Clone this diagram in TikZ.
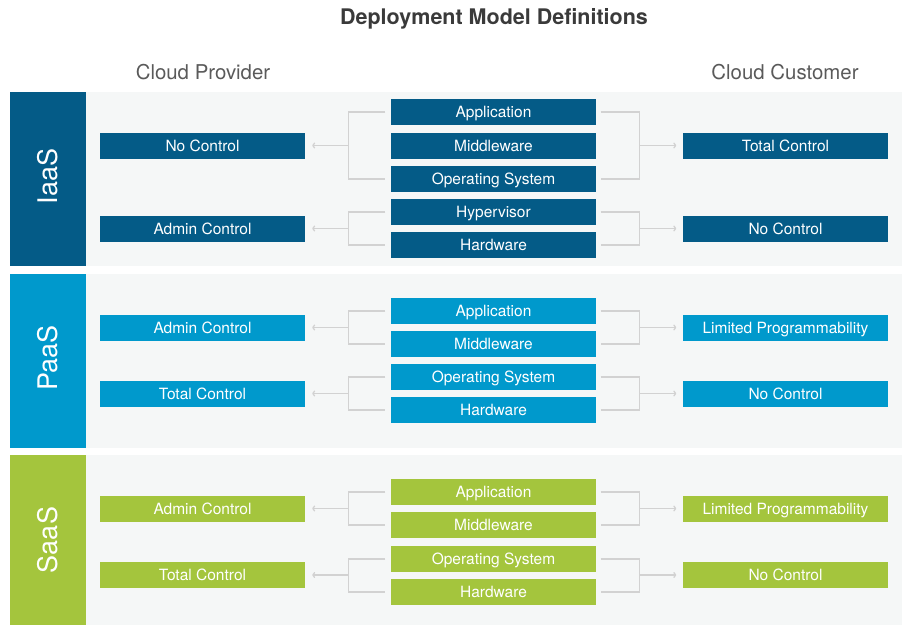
\documentclass[tikz,border=0pt]{standalone}
\usepackage{fontspec}
\setmainfont{TeX Gyre Heros}
\usetikzlibrary{arrows.meta}
\definecolor{iaas}{HTML}{045B87}
\definecolor{paas}{HTML}{0099CC}
\definecolor{saas}{HTML}{A4C53D}
\definecolor{bggray}{HTML}{F5F7F7}
\definecolor{linegray}{HTML}{D2D2D2}
\definecolor{titlegray}{HTML}{3A3A3A}
\definecolor{headgray}{HTML}{5A5A5A}
\begin{document}
\begin{tikzpicture}[x=1pt,y=-1pt,
  box/.style={minimum width=205pt,minimum height=26pt,inner sep=0pt,text=white,
    text height=11.1pt,text depth=0pt,
    font=\fontsize{15.5}{18}\selectfont},
  bandlabel/.style={rotate=90,text=white,font=\fontsize{27}{30}\selectfont},
  conn/.style={draw=linegray,line width=1.3pt},
  arr/.style={-{To[length=3pt,width=6pt]}}]
\useasboundingbox (0,0) rectangle (906,625);
% title and headings
\node[font=\bfseries\fontsize{21.5}{25}\selectfont,text=titlegray] (title) at (494,19) {Deployment Model Definitions};
\node[font=\fontsize{20.4}{24}\selectfont,text=headgray] (prov) at (203,72) {Cloud Provider};
\node[font=\fontsize{20.4}{24}\selectfont,text=headgray] (cust) at (785,72) {Cloud Customer};
% bands
\fill[bggray] (85,92) rectangle (902,266);
\fill[iaas] (10,92) rectangle (86,266);
\fill[bggray] (85,274) rectangle (902,447.5);
\fill[paas] (10,274) rectangle (85.5,447.5);
\fill[bggray] (85,455) rectangle (902,625);
\fill[saas] (10,455) rectangle (85.5,625);
\node[bandlabel] (lI) at (47.5,176.5) {IaaS};
\node[bandlabel] (lP) at (47.5,358) {PaaS};
\node[bandlabel] (lS) at (47.5,540) {SaaS};
% bracket x positions
\coordinate (bl) at (348.5,0);
\coordinate (br) at (639.5,0);
% ---------------- IaaS ----------------
\node[box,fill=iaas] (i1) at (493.5,112) {Application};
\node[box,fill=iaas] (i2) at (493.5,145.5) {Middleware};
\node[box,fill=iaas] (i3) at (493.5,179) {Operating System};
\node[box,fill=iaas] (i4) at (493.5,212) {Hypervisor};
\node[box,fill=iaas] (i5) at (493.5,245) {Hardware};
\node[box,fill=iaas] (iL1) at (202.5,145.5) {No Control};
\node[box,fill=iaas] (iL2) at (202.5,228.5) {Admin Control};
\node[box,fill=iaas] (iR1) at (785.5,145.5) {Total Control};
\node[box,fill=iaas] (iR2) at (785.5,228.5) {No Control};
\draw[conn] ([xshift=-5.5]i1.west) -| (bl |- i3.west) -- ([xshift=-5.5]i3.west);
\draw[conn] ([xshift=-5.5]i4.west) -| (bl |- i5.west) -- ([xshift=-5.5]i5.west);
\draw[conn] ([xshift=4.5]i1.east) -| (br |- i3.east) -- ([xshift=4.5]i3.east);
\draw[conn] ([xshift=4.5]i4.east) -| (br |- i5.east) -- ([xshift=4.5]i5.east);
\draw[conn,arr] (iL1.east -| bl) -- ([xshift=7]iL1.east);
\draw[conn,arr] (iL2.east -| bl) -- ([xshift=7]iL2.east);
\draw[conn,arr] (iR1.west -| br) -- ([xshift=-6.5]iR1.west);
\draw[conn,arr] (iR2.west -| br) -- ([xshift=-6.5]iR2.west);
% ---------------- PaaS ----------------
\node[box,fill=paas] (p1) at (493.5,311) {Application};
\node[box,fill=paas] (p2) at (493.5,344) {Middleware};
\node[box,fill=paas] (p3) at (493.5,377) {Operating System};
\node[box,fill=paas] (p4) at (493.5,410) {Hardware};
\node[box,fill=paas] (pL1) at (202.5,327.5) {Admin Control};
\node[box,fill=paas] (pL2) at (202.5,393.5) {Total Control};
\node[box,fill=paas] (pR1) at (785.5,327.5) {Limited Programmability};
\node[box,fill=paas] (pR2) at (785.5,393.5) {No Control};
\draw[conn] ([xshift=-5.5]p1.west) -| (bl |- p2.west) -- ([xshift=-5.5]p2.west);
\draw[conn] ([xshift=-5.5]p3.west) -| (bl |- p4.west) -- ([xshift=-5.5]p4.west);
\draw[conn] ([xshift=4.5]p1.east) -| (br |- p2.east) -- ([xshift=4.5]p2.east);
\draw[conn] ([xshift=4.5]p3.east) -| (br |- p4.east) -- ([xshift=4.5]p4.east);
\draw[conn,arr] (pL1.east -| bl) -- ([xshift=7]pL1.east);
\draw[conn,arr] (pL2.east -| bl) -- ([xshift=7]pL2.east);
\draw[conn,arr] (pR1.west -| br) -- ([xshift=-6.5]pR1.west);
\draw[conn,arr] (pR2.west -| br) -- ([xshift=-6.5]pR2.west);
% ---------------- SaaS ----------------
\node[box,fill=saas] (s1) at (493.5,492) {Application};
\node[box,fill=saas] (s2) at (493.5,525) {Middleware};
\node[box,fill=saas] (s3) at (493.5,559) {Operating System};
\node[box,fill=saas] (s4) at (493.5,592) {Hardware};
\node[box,fill=saas] (sL1) at (202.5,508.5) {Admin Control};
\node[box,fill=saas] (sL2) at (202.5,575) {Total Control};
\node[box,fill=saas] (sR1) at (785.5,508.5) {Limited Programmability};
\node[box,fill=saas] (sR2) at (785.5,575) {No Control};
\draw[conn] ([xshift=-5.5]s1.west) -| (bl |- s2.west) -- ([xshift=-5.5]s2.west);
\draw[conn] ([xshift=-5.5]s3.west) -| (bl |- s4.west) -- ([xshift=-5.5]s4.west);
\draw[conn] ([xshift=4.5]s1.east) -| (br |- s2.east) -- ([xshift=4.5]s2.east);
\draw[conn] ([xshift=4.5]s3.east) -| (br |- s4.east) -- ([xshift=4.5]s4.east);
\draw[conn,arr] (sL1.east -| bl) -- ([xshift=7]sL1.east);
\draw[conn,arr] (sL2.east -| bl) -- ([xshift=7]sL2.east);
\draw[conn,arr] (sR1.west -| br) -- ([xshift=-6.5]sR1.west);
\draw[conn,arr] (sR2.west -| br) -- ([xshift=-6.5]sR2.west);
\end{tikzpicture}
\end{document}
